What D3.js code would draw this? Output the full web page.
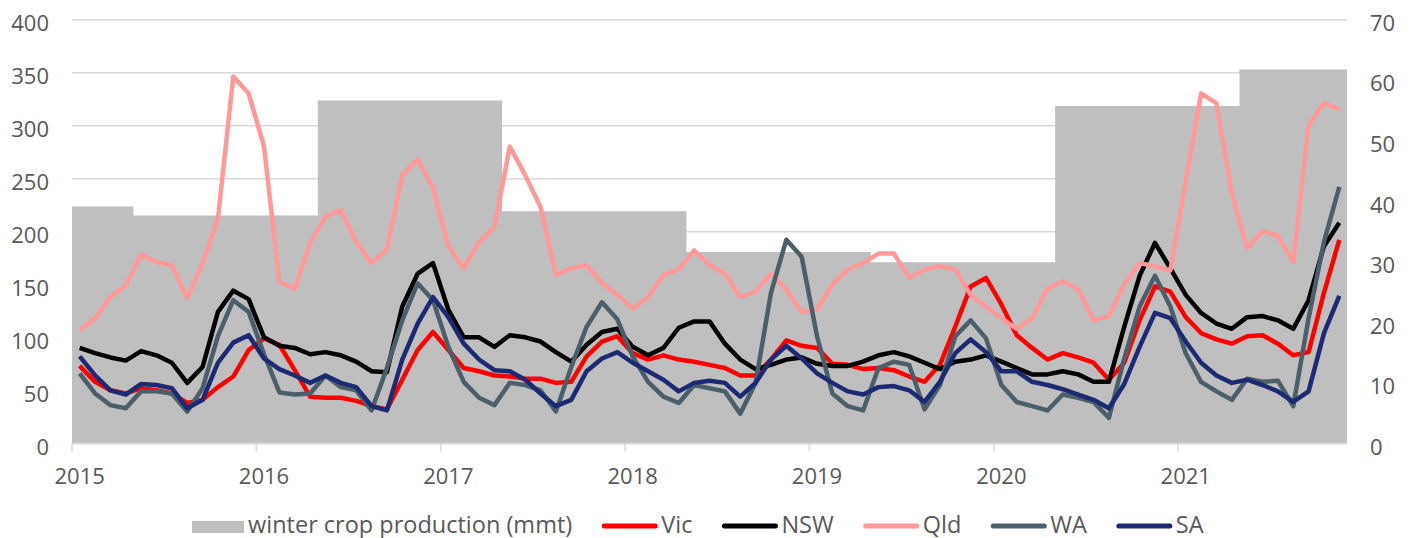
<!DOCTYPE html>
<html>
<head>
<meta charset="utf-8">
<script src="https://cdn.jsdelivr.net/npm/d3@7"></script>
<style>
  body { margin: 0; background: #fff; }
  text { font-family: "Open Sans", sans-serif; fill: #595959; }
</style>
</head>
<body>
<script>
// chart size
const width = 1410, height = 538;
const margin = { top: 19.3, right: 63, bottom: 94.7, left: 72 };

// monthly categories, Jan 2015 - Nov 2021
const months = d3.timeMonths(new Date(2015, 0, 1), new Date(2021, 11, 1));

// winter crop production by season (mmt, right axis), season starts in May
const cropSeasons = [2014, 2015, 2016, 2017, 2018, 2019, 2020, 2021];
const cropMmt = [39.1, 37.6, 56.6, 38.3, 31.6, 29.9, 55.7, 61.7];

// state series (left axis)
const vic = [73,58,50,47,52,50,47,38,41,53,63,88, 99,93,69,44,43,43,40,35,32,60,88,105,
  88,71,68,64,63,61,61,57,58,82,96,101, 85,79,83,79,77,74,71,64,64,79,97,92,
  90,75,74,70,71,69,63,58,74,110,148,156, 131,102,90,79,85,81,76,60,76,116,148,143,
  119,104,98,94,101,102,94,83,86,142,192];
const nsw = [90,85,81,78,87,83,76,57,72,124,144,136, 100,92,90,84,86,83,77,68,67,129,160,170,
  126,100,100,91,102,100,96,86,77,93,105,108, 91,83,90,109,115,115,94,79,70,74,79,81,
  75,73,73,77,83,86,82,76,70,77,79,83, 77,71,65,65,68,65,58,58,110,158,189,165,
  140,123,113,108,119,120,116,108,135,186,208];
const qld = [107,118,138,149,178,171,168,137,170,212,346,330, 280,152,146,189,214,220,190,170,183,253,268,241,
  186,165,190,204,280,253,223,159,165,168,151,140, 127,138,159,164,182,168,160,138,143,160,145,124,
  126,150,164,170,179,179,156,164,167,164,140,129, 118,108,118,146,153,145,116,120,150,170,167,163,
  247,330,321,236,184,200,196,171,300,321,315];
const wa = [66,47,36,33,49,49,47,30,52,101,135,124, 84,48,46,47,64,53,50,31,71,116,151,135,
  91,58,43,36,57,55,50,30,72,110,133,117, 82,58,44,38,55,52,49,28,57,142,192,176,
  101,47,35,31,71,77,74,32,55,101,116,99, 55,39,35,31,46,43,39,24,80,129,158,129,
  85,58,49,41,61,58,59,35,118,190,242];
const sa = [82,64,50,46,56,55,52,33,41,76,95,102, 80,70,64,57,64,57,53,35,31,79,113,138,
  119,94,79,69,68,60,47,35,41,68,80,86, 76,68,60,49,57,59,57,44,57,79,92,80,
  66,57,49,46,53,54,50,39,58,85,98,86, 68,68,58,55,51,46,41,33,56,91,123,118,
  96,76,64,57,60,55,49,39,49,104,139];

const series = [
  { name: "Vic", values: vic, color: "#ff0000" },
  { name: "NSW", values: nsw, color: "#000000" },
  { name: "Qld", values: qld, color: "#ff9999" },
  { name: "WA", values: wa, color: "#4b5f6b" },
  { name: "SA", values: sa, color: "#1b2a72" }
];

const leftTicks = d3.range(0, 401, 50);
const rightTicks = d3.range(0, 71, 10);

const svg = d3.select("body").append("svg")
  .attr("width", width)
  .attr("height", height);

// scales
const x = d3.scaleBand()
  .domain(months)
  .range([margin.left, width - margin.right])
  .padding(0);
const bw = x.bandwidth();

const yL = d3.scaleLinear().domain([0, 400]).range([height - margin.bottom, margin.top]);
const yR = d3.scaleLinear().domain([0, 70]).range([height - margin.bottom, margin.top]);

// gridlines + left axis
const gLeft = svg.append("g")
  .attr("transform", `translate(${margin.left},0)`)
  .call(d3.axisLeft(yL).tickValues(leftTicks).tickSize(-(width - margin.left - margin.right)).tickPadding(23));
gLeft.select(".domain").remove();
gLeft.selectAll(".tick line").attr("stroke", "#d9d9d9").attr("stroke-width", 1.5);
gLeft.selectAll(".tick text").attr("font-size", 22).attr("dy", "0.5em");

// right axis
const gRight = svg.append("g")
  .attr("transform", `translate(${width - margin.right},0)`)
  .call(d3.axisRight(yR).tickValues(rightTicks).tickSize(0).tickPadding(23));
gRight.select(".domain").remove();
gRight.selectAll(".tick text").attr("font-size", 22).attr("dy", "0.5em");

// winter crop production as a stepped area, one step per month
const seasonOf = d => d.getFullYear() - (d.getMonth() < 4 ? 1 : 0);
const cropPts = months.flatMap(m => {
  const v = cropMmt[cropSeasons.indexOf(seasonOf(m))];
  return [[x(m), v], [x(m) + bw, v]];
});
svg.append("path")
  .datum(cropPts)
  .attr("fill", "#bfbfbf")
  .attr("d", d3.area().x(d => d[0]).y0(yR(0)).y1(d => yR(d[1])));

// bottom axis: ticks at year start, labels at January centre
const januaries = months.filter(m => m.getMonth() === 0);
const gBottom = svg.append("g")
  .attr("transform", `translate(0,${height - margin.bottom})`)
  .call(d3.axisBottom(x).tickValues(januaries).tickSize(8).tickPadding(17).tickFormat(d3.timeFormat("%Y")));
gBottom.select(".domain").attr("stroke", "#d9d9d9").attr("stroke-width", 1.5)
  .attr("d", `M${margin.left},0H${width - margin.right}`);
gBottom.selectAll(".tick line").attr("stroke", "#d9d9d9").attr("stroke-width", 1.5)
  .attr("transform", `translate(${-bw / 2},0)`);
gBottom.selectAll(".tick text").attr("font-size", 22);

// state lines
const line = d3.line()
  .x((d, i) => x(months[i]) + bw / 2)
  .y(d => yL(d));

series.forEach(s => {
  svg.append("path")
    .datum(s.values)
    .attr("fill", "none")
    .attr("stroke", s.color)
    .attr("stroke-width", 4.5)
    .attr("stroke-linejoin", "round")
    .attr("d", line);
});

// legend
const legend = svg.append("g").attr("transform", "translate(192,526)");
const legendItems = [{ name: "winter crop production (mmt)", color: "#bfbfbf", rect: true }]
  .concat(series.map(s => ({ name: s.name, color: s.color, rect: false })));

let lx = 0;
legendItems.forEach(item => {
  const g = legend.append("g").attr("transform", `translate(${lx},0)`);
  let sw;
  if (item.rect) {
    sw = 52;
    g.append("rect").attr("x", 0).attr("y", -5).attr("width", sw).attr("height", 12).attr("fill", item.color);
  } else {
    sw = 55;
    g.append("line").attr("x1", 2).attr("x2", sw - 2).attr("y1", 0).attr("y2", 0)
      .attr("stroke", item.color).attr("stroke-width", 5).attr("stroke-linecap", "round");
  }
  const t = g.append("text")
    .attr("x", sw + 4)
    .attr("y", 6.5)
    .attr("font-size", 23.5)
    .text(item.name);
  lx += sw + 4 + t.node().getComputedTextLength() + 30;
});
</script>
</body>
</html>
